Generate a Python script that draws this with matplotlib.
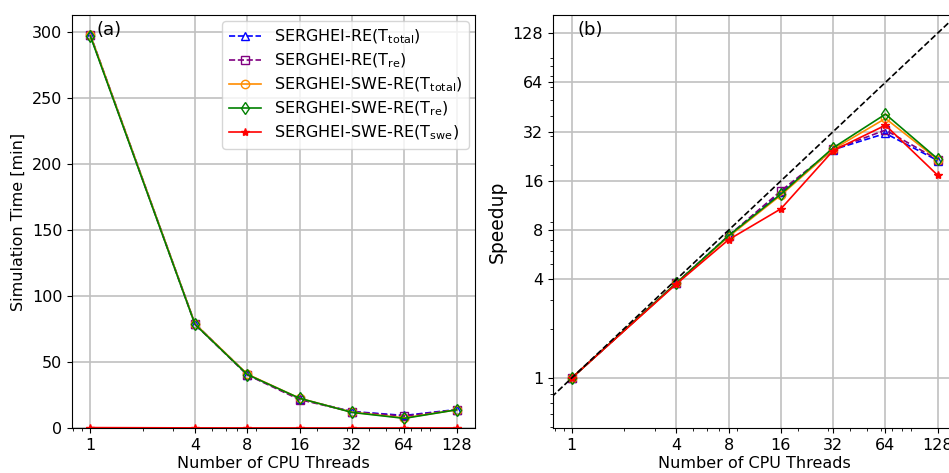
import numpy as np
import matplotlib
matplotlib.use("Agg")
import matplotlib.pyplot as plt
from matplotlib.ticker import ScalarFormatter, NullFormatter

# Number of CPU threads
threads = [1, 4, 8, 16, 32, 64, 128]

# Simulation time [min] (panel a)
t_re_total = [298.0, 79.0, 40.5, 22.0, 12.5, 9.5, 14.0]
t_re_re = [297.5, 78.5, 40.2, 21.5, 12.3, 9.0, 13.8]
t_swe_total = [298.0, 79.0, 40.8, 22.5, 12.0, 7.6, 13.8]
t_swe_re = [297.0, 78.5, 40.5, 22.5, 11.8, 7.3, 13.8]
t_swe_swe = [0.30, 0.08, 0.043, 0.028, 0.012, 0.009, 0.017]

# Speedup (panel b)
s_re_total = [1.0, 3.8, 7.4, 13.6, 24.8, 31.2, 21.3]
s_re_re = [1.0, 3.8, 7.4, 13.9, 24.9, 32.7, 21.6]
s_swe_total = [1.0, 3.8, 7.3, 13.1, 25.0, 38.5, 21.6]
s_swe_re = [1.0, 3.8, 7.4, 13.3, 25.5, 40.9, 21.8]
s_swe_swe = [1.0, 3.75, 7.0, 10.8, 24.5, 35.0, 17.3]

labels = [r'SERGHEI-RE(T$_{\mathrm{total}}$)',
          r'SERGHEI-RE(T$_{\mathrm{re}}$)',
          r'SERGHEI-SWE-RE(T$_{\mathrm{total}}$)',
          r'SERGHEI-SWE-RE(T$_{\mathrm{re}}$)',
          r'SERGHEI-SWE-RE(T$_{\mathrm{swe}}$)']

styles = [dict(color='b', ls='--', marker='^', mfc='none'),
          dict(color='purple', ls='--', marker='s', mfc='none'),
          dict(color='darkorange', ls='-', marker='o', mfc='none'),
          dict(color='green', ls='-', marker='d', mfc='none'),
          dict(color='r', ls='-', marker='*')]

plt.rcParams['font.size'] = 11.5

fig = plt.figure(figsize=(9.49, 4.73), dpi=100)
ax1 = fig.add_axes([72/949, 45/473, 403/949, 413/473])
ax2 = fig.add_axes([553/949, 45/473, 403/949, 413/473])

# Panel (a): simulation time
times = [t_re_total, t_re_re, t_swe_total, t_swe_re, t_swe_swe]
for t, lab, st in zip(times, labels, styles):
    ax1.plot(threads, t, label=lab, lw=1.2, ms=6, **st)
ax1.set_xscale('log')
ax1.set_xticks(threads)
ax1.xaxis.set_major_formatter(ScalarFormatter())
ax1.xaxis.set_minor_formatter(NullFormatter())
ax1.set_ylim(bottom=0)
ax1.set_xlabel('Number of CPU Threads', labelpad=2)
ax1.set_ylabel('Simulation Time [min]')
ax1.grid(True, color='#c0c0c0', lw=1.2)
ax1.text(0.062, 0.964, '(a)', transform=ax1.transAxes, fontsize=13,
         va='center', ha='left')
ax1.legend(loc='upper right', fontsize=11.5, borderaxespad=0.4,
           labelspacing=0.35)

# Panel (b): speedup
speedups = [s_re_total, s_re_re, s_swe_total, s_swe_re, s_swe_swe]
for s, lab, st in zip(speedups, labels, styles):
    ax2.plot(threads, s, label=lab, lw=1.2, ms=6, **st)
ideal = [0.5, 200]
ax2.plot(ideal, ideal, 'k--', lw=1.2)
ax2.set_xscale('log')
ax2.set_yscale('log')
ax2.set_xlim(0.78, 163)
ax2.set_ylim(0.495, 165)
ax2.set_xticks(threads)
ax2.set_yticks([1, 4, 8, 16, 32, 64, 128])
for axis in (ax2.xaxis, ax2.yaxis):
    axis.set_major_formatter(ScalarFormatter())
    axis.set_minor_formatter(NullFormatter())
ax2.set_xlabel('Number of CPU Threads', labelpad=2)
ax2.set_ylabel('Speedup', fontsize=13.5)
ax2.grid(True, color='#c0c0c0', lw=1.2)
ax2.text(0.062, 0.964, '(b)', transform=ax2.transAxes, fontsize=13,
         va='center', ha='left')

fig.savefig('out.png', dpi=100)
